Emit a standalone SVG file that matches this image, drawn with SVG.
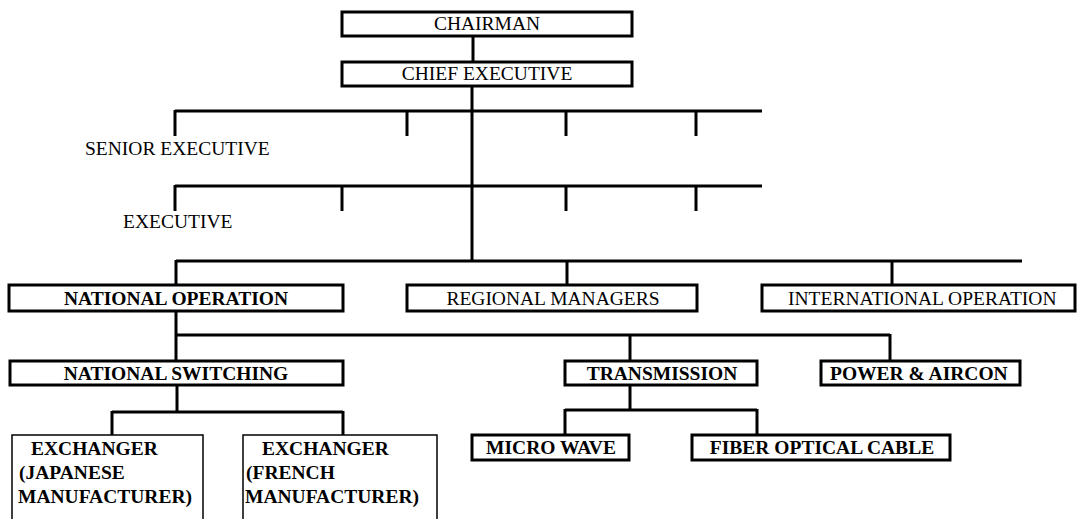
<svg xmlns="http://www.w3.org/2000/svg" width="1077" height="519" viewBox="0 0 1077 519">
<style>
.b{fill:#fff;stroke:#000;stroke-width:3}
.t{fill:#fff;stroke:#000;stroke-width:1.5}
.c line{stroke:#000;stroke-width:3}
text{font-family:"Liberation Serif","Times New Roman",serif;font-size:19.5px;fill:#000}
.m{text-anchor:middle}
.w{font-weight:bold}
</style>
<rect width="1077" height="519" fill="#fff"/>
<g id="connectors" class="c">
<line x1="473" y1="36" x2="473" y2="62"/>
<line x1="472" y1="86" x2="472" y2="261"/>
<line x1="175" y1="111" x2="762" y2="111"/>
<line x1="175" y1="110" x2="175" y2="136"/>
<line x1="407" y1="111" x2="407" y2="136"/>
<line x1="566" y1="111" x2="566" y2="136"/>
<line x1="696" y1="111" x2="696" y2="136"/>
<line x1="175" y1="186" x2="762" y2="186"/>
<line x1="175" y1="185" x2="175" y2="211"/>
<line x1="342" y1="186" x2="342" y2="211"/>
<line x1="566" y1="186" x2="566" y2="211"/>
<line x1="696" y1="186" x2="696" y2="211"/>
<line x1="176" y1="261" x2="1022" y2="261"/>
<line x1="176" y1="260" x2="176" y2="285"/>
<line x1="567" y1="261" x2="567" y2="285"/>
<line x1="892" y1="261" x2="892" y2="285"/>
<line x1="176" y1="311" x2="176" y2="361"/>
<line x1="176" y1="335" x2="890" y2="335"/>
<line x1="630" y1="335" x2="630" y2="361"/>
<line x1="890" y1="334" x2="890" y2="361"/>
<line x1="177" y1="385" x2="177" y2="412"/>
<line x1="112" y1="412" x2="343" y2="412"/>
<line x1="112" y1="411" x2="112" y2="435"/>
<line x1="343" y1="411" x2="343" y2="435"/>
<line x1="630" y1="385" x2="630" y2="410"/>
<line x1="565" y1="410" x2="757" y2="410"/>
<line x1="565" y1="409" x2="565" y2="435"/>
<line x1="757" y1="409" x2="757" y2="435"/>
</g>
<g id="chairman"><rect class="b" x="342" y="12" width="290" height="24"/><text class="m" x="487" y="30">CHAIRMAN</text></g>
<g id="chief-executive"><rect class="b" x="342" y="62" width="290" height="24"/><text class="m" x="487" y="80">CHIEF EXECUTIVE</text></g>
<g id="senior-executive"><text x="85" y="155">SENIOR EXECUTIVE</text></g>
<g id="executive"><text x="123" y="228">EXECUTIVE</text></g>
<g id="national-operation"><rect class="b" x="9" y="285" width="334" height="26"/><text class="m w" x="176" y="305">NATIONAL OPERATION</text></g>
<g id="regional-managers"><rect class="b" x="407" y="285" width="290" height="26"/><text class="m" x="553" y="305">REGIONAL MANAGERS</text></g>
<g id="international-operation"><rect class="b" x="762" y="285" width="313" height="26"/><text x="788" y="305">INTERNATIONAL OPERATION</text></g>
<g id="national-switching"><rect class="b" x="10" y="361" width="333" height="24"/><text class="m w" x="176" y="380">NATIONAL SWITCHING</text></g>
<g id="transmission"><rect class="b" x="565" y="361" width="192" height="24"/><text class="m w" x="662" y="380">TRANSMISSION</text></g>
<g id="power-aircon"><rect class="b" x="821" y="361" width="199" height="24"/><text class="w" x="830" y="380">POWER &amp; AIRCON</text></g>
<g id="exchanger-japanese"><rect class="t" x="12" y="435" width="191" height="100"/><text class="w" x="31" y="455">EXCHANGER</text><text class="w" x="19" y="479">(JAPANESE</text><text class="w" x="18" y="503">MANUFACTURER)</text></g>
<g id="exchanger-french"><rect class="t" x="243" y="435" width="194" height="100"/><text class="w" x="262" y="455">EXCHANGER</text><text class="w" x="246" y="479">(FRENCH</text><text class="w" x="245" y="503">MANUFACTURER)</text></g>
<g id="micro-wave"><rect class="b" x="472" y="435" width="157" height="25"/><text class="m w" x="551" y="454">MICRO WAVE</text></g>
<g id="fiber-optical-cable"><rect class="b" x="692" y="435" width="258" height="25"/><text class="m w" x="822" y="454">FIBER OPTICAL CABLE</text></g>
</svg>
